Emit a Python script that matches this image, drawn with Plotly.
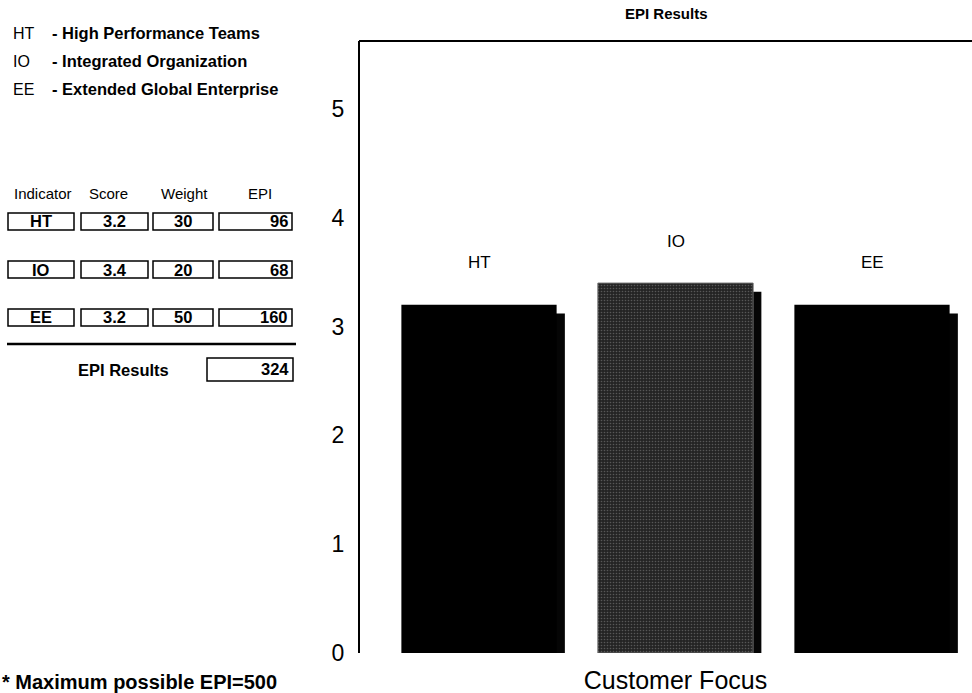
import plotly.graph_objects as go

# ---- data -------------------------------------------------------------
indicators = ["HT", "IO", "EE"]
indicator_names = ["High Performance Teams", "Integrated Organization",
                   "Extended Global Enterprise"]
scores = [3.2, 3.4, 3.2]
weights = [30, 20, 50]
category = "Customer Focus"
y_ticks = [0, 1, 2, 3, 4, 5]
max_epi = 500

epi_values = [round(s * w) for s, w in zip(scores, weights)]
epi_total = sum(epi_values)

# ---- page geometry (pixels) ------------------------------------------
W, H = 972, 693
TOP, BOTTOM = 41, 653          # plot area top / bottom
PLOT_LEFT = 360                # y-axis position
PLOT_H = BOTTOM - TOP


def px(x):
    return x / W


def py(y):
    return (BOTTOM - y) / PLOT_H


BOLD = "Liberation Sans"
REG = "Liberation Sans"

fig = go.Figure()

positions = list(range(len(indicators)))
bar_width = 0.79
shadow_dx = 0.042
shadow_drop = 0.08

# drop shadows behind the bars
fig.add_trace(go.Bar(
    x=[p + shadow_dx for p in positions],
    y=[s - shadow_drop for s in scores],
    width=bar_width,
    marker=dict(color="#050505", line=dict(width=0)),
    hoverinfo="skip",
    showlegend=False,
))

bar_fill = ["#000000", "#242424", "#000000"]
for i, (name, score) in enumerate(zip(indicators, scores)):
    marker = dict(color=bar_fill[i], line=dict(width=0))
    if name == "IO":
        marker["pattern"] = dict(shape=".", fgcolor="#8a8a8a", size=3,
                                 solidity=0.22)
        marker["line"] = dict(width=1, color="#6a6a6a")
    fig.add_trace(go.Bar(
        x=[positions[i]], y=[score], width=bar_width, name=name,
        marker=marker, showlegend=False,
    ))
    fig.add_annotation(
        x=positions[i], y=score, xref="x", yref="y", text=name,
        showarrow=False, yshift=42, xanchor="center", yanchor="middle",
        font=dict(family=REG, size=17, color="#000"),
    )

fig.update_layout(
    width=W, height=H,
    margin=dict(l=0, r=0, t=TOP, b=H - BOTTOM, pad=0),
    paper_bgcolor="white", plot_bgcolor="white",
    barmode="overlay",
    showlegend=False,
    xaxis=dict(
        domain=[px(PLOT_LEFT), 1],
        range=[(PLOT_LEFT - 479) / 196.5, (W - 479) / 196.5],
        tickvals=[1], ticktext=[category],
        tickfont=dict(family=REG, size=25, color="#000"),
        showline=False, showgrid=False, zeroline=False, ticks="",
        ticklabelstandoff=10,
        automargin=False,
    ),
    yaxis=dict(
        range=[0, PLOT_H / 108.8],
        tickvals=y_ticks,
        tickfont=dict(family=REG, size=23, color="#000"),
        showline=True, linecolor="#000", linewidth=2,
        showgrid=False, zeroline=False, ticks="",
        ticklabelstandoff=9,
        automargin=False,
    ),
)

shapes = []
annotations = []


def label(x, y, text, size, family=REG, xanchor="center"):
    annotations.append(dict(
        x=px(x), y=py(y), xref="paper", yref="paper",
        xanchor=xanchor, yanchor="middle", text=text, showarrow=False,
        font=dict(family=family, size=size, color="#000"),
    ))


# chart title and top frame line
label((PLOT_LEFT + W) / 2, 14, "<b>EPI Results</b>", 15, BOLD)
shapes.append(dict(type="line", xref="paper", yref="paper",
                   x0=px(PLOT_LEFT - 1), x1=1, y0=py(TOP), y1=py(TOP),
                   line=dict(color="#000", width=2)))

# key to the abbreviations
key_rows = [33, 61, 89]
for abbr, full, yy in zip(indicators, indicator_names, key_rows):
    label(11, yy, abbr, 16, REG, "left")
    label(50, yy, "<b>- " + full + "</b>", 16.5, BOLD, "left")

# scoring table
cols = [(8, 74), (81, 148), (153, 213), (219, 292)]
headers = ["Indicator", "Score", "Weight", "EPI"]
header_x = [43, 108, 184, 260]
for h, hx in zip(headers, header_x):
    label(hx, 193, h, 15)

row_tops = [213, 261, 309]
box_h = 17
for i, top in enumerate(row_tops):
    cells = [indicators[i], f"{scores[i]:.1f}", str(weights[i]),
             str(epi_values[i])]
    for j, ((x0, x1), txt) in enumerate(zip(cols, cells)):
        shapes.append(dict(type="rect", xref="paper", yref="paper",
                           x0=px(x0), x1=px(x1), y0=py(top), y1=py(top + box_h),
                           line=dict(color="#000", width=1.5)))
        if j == 3:
            label(x1 - 2, top + box_h / 2, f"<b>{txt}</b>", 16.5, BOLD, "right")
        else:
            label((x0 + x1) / 2, top + box_h / 2, f"<b>{txt}</b>", 16.5, BOLD)

# separator and total
shapes.append(dict(type="line", xref="paper", yref="paper",
                   x0=px(7), x1=px(296), y0=py(344), y1=py(344),
                   line=dict(color="#000", width=2.5)))
label(123, 370, "<b>EPI Results</b>", 16.5, BOLD)
shapes.append(dict(type="rect", xref="paper", yref="paper",
                   x0=px(207), x1=px(293), y0=py(358), y1=py(381),
                   line=dict(color="#000", width=1.5)))
label(291, 369, f"<b>{epi_total}</b>", 16.5, BOLD, "right")

# footnote
label(0, 682, f"<b>* Maximum possible EPI={max_epi}</b>", 20, BOLD, "left")

for a in annotations:
    fig.add_annotation(**a)
fig.update_layout(shapes=shapes)

fig.write_html("out.html")
